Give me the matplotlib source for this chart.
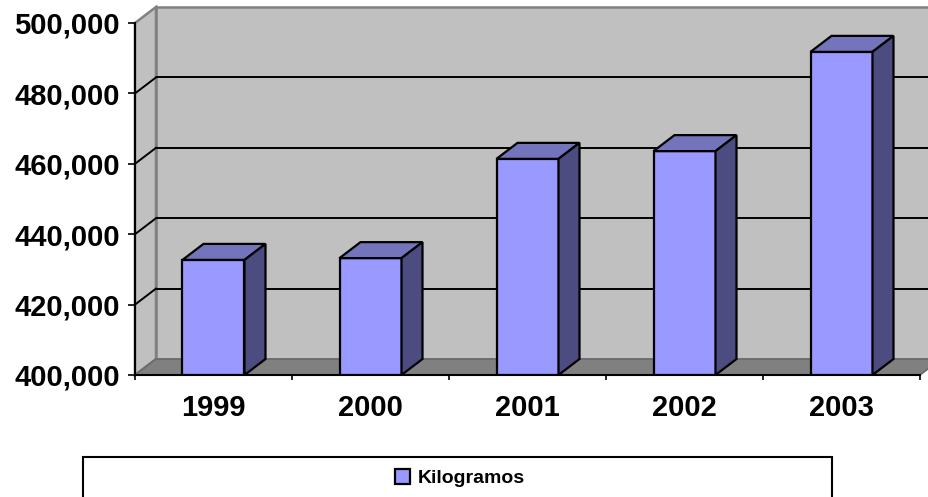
import matplotlib
matplotlib.use("Agg")
import matplotlib.pyplot as plt
from matplotlib.patches import Polygon, Rectangle
from matplotlib.ticker import FuncFormatter, MultipleLocator

# ---- data ----
years = ["1999", "2000", "2001", "2002", "2003"]
kilogramos = [432700, 433200, 461400, 463600, 491800]
y_min, y_max, y_step = 400000, 500000, 20000
series_label = "Kilogramos"

# ---- style ----
front_col = "#9999FF"
top_col = "#7474BC"
side_col = "#4C4C80"
wall_col = "#C0C0C0"
floor_col = "#808080"
edge_gray = "#808080"

W, H, DPI = 929, 497, 100
fig = plt.figure(figsize=(W / DPI, H / DPI), dpi=DPI)
plt.rcParams["font.family"] = ["Liberation Sans", "DejaVu Sans"]

ax = fig.add_axes([135 / W, (H - 375) / H, 785 / W, 352 / H])
n = len(years)
x0, x1 = -0.5, n - 0.5
ax.set_xlim(x0, x1)
ax.set_ylim(y_min, y_max)

# depth offsets in data units (3D look)
dx = 21 / 157.0
dy = 16 / 3.52 * 1000

# back wall
ax.add_patch(Polygon([(x0 + dx, y_min + dy), (x1 + dx, y_min + dy),
                      (x1 + dx, y_max + dy), (x0 + dx, y_max + dy)],
                     closed=True, facecolor=wall_col, edgecolor=edge_gray,
                     lw=1.8, clip_on=False, zorder=0.5))
# left wall
ax.add_patch(Polygon([(x0, y_min), (x0 + dx, y_min + dy),
                      (x0 + dx, y_max + dy), (x0, y_max)],
                     closed=True, facecolor=wall_col, edgecolor=edge_gray,
                     lw=1.8, clip_on=False, zorder=0.5))
# gridlines
gy = list(range(y_min + y_step, y_max, y_step))
for v in gy:
    ax.plot([x0 + dx, x1 + dx], [v + dy, v + dy], color="black", lw=1.4,
            clip_on=False, zorder=0.6, solid_capstyle="butt")
    ax.plot([x0, x0 + dx], [v, v + dy], color="black", lw=1.4,
            clip_on=False, zorder=0.6)
# floor
ax.add_patch(Polygon([(x0, y_min), (x1, y_min), (x1 + dx, y_min + dy),
                      (x0 + dx, y_min + dy)],
                     closed=True, facecolor=floor_col, edgecolor="#6a6a6a",
                     lw=1.2, clip_on=False, zorder=0.7))

# bars
bw = 62 / 157.0
xs = list(range(n))
ax.bar(xs, [v - y_min for v in kilogramos], bottom=y_min, width=bw,
       color=front_col, edgecolor="black", lw=1.6, label=series_label,
       zorder=3)
for xc, v in zip(xs, kilogramos):
    l, r = xc - bw / 2, xc + bw / 2
    ax.add_patch(Polygon([(l, v), (r, v), (r + dx, v + dy), (l + dx, v + dy)],
                         closed=True, facecolor=top_col, edgecolor="black",
                         lw=1.6, zorder=3, clip_on=False, joinstyle="miter"))
    ax.add_patch(Polygon([(r, y_min), (r + dx, y_min + dy), (r + dx, v + dy),
                          (r, v)],
                         closed=True, facecolor=side_col, edgecolor="black",
                         lw=1.6, zorder=3, clip_on=False, joinstyle="miter"))

# axes styling
ax.set_facecolor("none")
for s in ["top", "right"]:
    ax.spines[s].set_visible(False)
for s in ["left", "bottom"]:
    ax.spines[s].set_color("black")
    ax.spines[s].set_linewidth(1.5)
    ax.spines[s].set_zorder(2.5)

ax.yaxis.set_major_locator(MultipleLocator(y_step))
ax.yaxis.set_major_formatter(FuncFormatter(lambda v, p: f"{int(v):,}"))
ax.tick_params(axis="y", direction="out", length=5, width=1.2, pad=6,
               labelsize=21, colors="black")
for t in ax.get_yticklabels():
    t.set_fontweight("bold")

ax.set_xticks(xs)
ax.set_xticklabels(years, fontsize=21, fontweight="bold")
ax.set_xticks([i - 0.5 for i in range(n + 1)], minor=True)
ax.tick_params(axis="x", which="major", length=0, pad=14)
ax.tick_params(axis="x", which="minor", direction="out", length=3.8, width=1.2)

# legend box + legend
fig.patches.append(Rectangle((83 / W, -0.05), (832 - 83) / W, (1 - 457 / H) + 0.05,
                             transform=fig.transFigure, facecolor="white",
                             edgecolor="black", lw=1.5, zorder=0))
leg = fig.legend(loc="center", bbox_to_anchor=(460 / W, 1 - 478 / H),
                 frameon=False, prop={"size": 14, "weight": "bold"},
                 handlelength=0.8, handleheight=0.8, handletextpad=0.4)

fig.savefig("out.png", dpi=DPI)
